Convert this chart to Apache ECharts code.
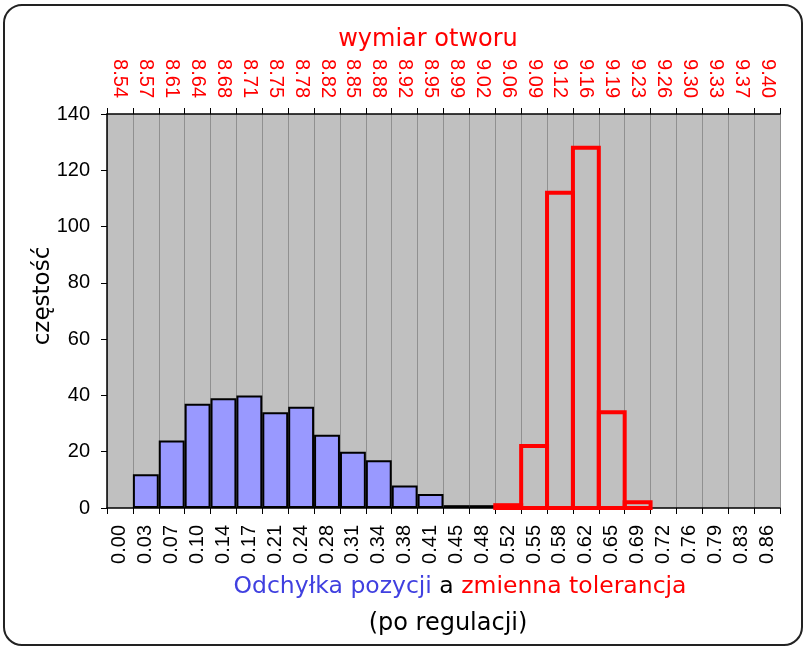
<!DOCTYPE html>
<html>
<head>
<meta charset="utf-8">
<script src="https://cdn.jsdelivr.net/npm/echarts@6/dist/echarts.min.js"></script>
<style>
html,body{margin:0;padding:0;background:#fff;}
#chart{width:807px;height:652px;}
</style>
</head>
<body>
<div id="chart"></div>
<script>
var bottomLabels = ['0.00','0.03','0.07','0.10','0.14','0.17','0.21','0.24','0.28','0.31','0.34','0.38','0.41','0.45','0.48','0.52','0.55','0.58','0.62','0.65','0.69','0.72','0.76','0.79','0.83','0.86'];
var topLabels = ['8.54','8.57','8.61','8.64','8.68','8.71','8.75','8.78','8.82','8.85','8.88','8.92','8.95','8.99','9.02','9.06','9.09','9.12','9.16','9.19','9.23','9.26','9.30','9.33','9.37','9.40'];
var positionDeviation = ['-',12,24,37,39,40,34,36,26,20,17,8,5,1,1,'-','-','-','-','-','-','-','-','-','-','-'];
var variableTolerance = ['-','-','-','-','-','-','-','-','-','-','-','-','-','-','-',1,22,112,128,34,2,'-','-','-','-','-'];
var yTicks = {min: 0, max: 140, interval: 20};

var toleranceData = [];
variableTolerance.forEach(function (v, i) { if (v !== '-') toleranceData.push([i, v]); });

var chart = echarts.init(document.getElementById('chart'));
var labelFont = 'Liberation Sans, Arial, sans-serif';
var titleFont = 'DejaVu Sans, Verdana, sans-serif';
var option = {
  animation: false,
  backgroundColor: '#fff',
  grid: {left: 107, right: 27, top: 114, bottom: 144, show: true, backgroundColor: '#c0c0c0', borderWidth: 0},
  xAxis: [
    {
      type: 'category', position: 'bottom', data: bottomLabels,
      axisLine: {show: true, lineStyle: {color: '#000', width: 1.5}},
      axisTick: {show: true, length: 6, lineStyle: {color: '#000', width: 1}},
      axisLabel: {interval: 0, rotate: 90, fontSize: 20, color: '#000', margin: 17, fontFamily: labelFont},
      splitLine: {show: true, interval: 0, lineStyle: {color: '#909090', width: 1}}
    },
    {
      type: 'category', position: 'top', data: topLabels,
      axisLine: {show: true, lineStyle: {color: '#000', width: 1.5}},
      axisTick: {show: true, length: 6, lineStyle: {color: '#000', width: 1}},
      axisLabel: {interval: 0, rotate: 90, fontSize: 20, color: '#ff0000', margin: 16, fontFamily: labelFont},
      splitLine: {show: false}
    }
  ],
  yAxis: {
    type: 'value', min: yTicks.min, max: yTicks.max, interval: yTicks.interval,
    axisLine: {show: true, lineStyle: {color: '#000', width: 1.5}},
    axisTick: {show: true, length: 6, lineStyle: {color: '#000', width: 1}},
    axisLabel: {fontSize: 20, color: '#000', margin: 17, fontFamily: labelFont},
    splitLine: {show: false}
  },
  series: [
    {
      name: 'Odchyłka pozycji', type: 'bar', xAxisIndex: 0, data: positionDeviation,
      barCategoryGap: '0%', barGap: '-100%',
      itemStyle: {color: '#9999ff', borderColor: '#000', borderWidth: 2}
    },
    {
      name: 'zmienna tolerancja', type: 'custom', xAxisIndex: 0, data: toleranceData,
      encode: {x: 0, y: 1}, z: 5,
      renderItem: function (params, api) {
        var idx = api.value(0), v = api.value(1);
        var top = api.coord([idx, v]);
        var base = api.coord([idx, 0]);
        var w = api.size([1, 0])[0];
        return {
          type: 'rect',
          shape: {x: top[0] - w / 2, y: top[1], width: w, height: base[1] - top[1]},
          style: {fill: 'none', stroke: '#ff0000', lineWidth: 4}
        };
      }
    }
  ],
  graphic: [
    {type: 'rect', shape: {x: 4, y: 5, width: 798, height: 640, r: 18}, style: {fill: 'none', stroke: '#222', lineWidth: 2}, z: 100},
    {type: 'text', x: 428, y: 40, style: {text: 'wymiar otworu', font: '24px ' + titleFont, fill: '#ff0000', textAlign: 'center', textVerticalAlign: 'middle'}},
    {type: 'text', x: 43, y: 296, rotation: Math.PI / 2, style: {text: 'częstość', font: '23px ' + titleFont, fill: '#000', textAlign: 'center', textVerticalAlign: 'middle'}},
    {type: 'text', x: 460, y: 587, style: {
      text: '{b|Odchyłka pozycji }{k|a }{r|zmienna tolerancja}',
      textAlign: 'center', textVerticalAlign: 'middle',
      rich: {
        b: {font: '23.5px ' + titleFont, fill: '#4040e0'},
        k: {font: '23.5px ' + titleFont, fill: '#000'},
        r: {font: '23.5px ' + titleFont, fill: '#ff0000'}
      }
    }},
    {type: 'text', x: 448, y: 624, style: {text: '(po regulacji)', font: '24px ' + titleFont, fill: '#000', textAlign: 'center', textVerticalAlign: 'middle'}}
  ]
};
chart.setOption(option);
</script>
</body>
</html>
